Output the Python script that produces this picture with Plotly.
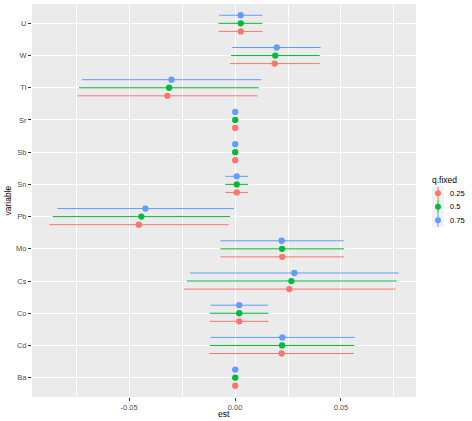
import plotly.graph_objects as go

variables = ["Ba", "Cd", "Co", "Cs", "Mo", "Pb", "Sn", "Sb", "Sr", "Tl", "W", "U"]
quantiles = ["0.25", "0.5", "0.75"]
colors = ["#F8766D", "#00BA38", "#619CFF"]

est_025 = [0.0001, 0.0220, 0.0020, 0.0256, 0.0223, -0.0454, 0.0008, 0.0001, 0.0001, -0.0319, 0.0187, 0.0027]
lo_025  = [-0.0006, -0.0121, -0.0118, -0.0241, -0.0069, -0.0876, -0.0046, -0.0006, -0.0006, -0.0744, -0.0024, -0.0077]
hi_025  = [0.0008, 0.0561, 0.0158, 0.0758, 0.0515, -0.0030, 0.0061, 0.0008, 0.0008, 0.0107, 0.0400, 0.0130]

est_050 = [0.0001, 0.0222, 0.0020, 0.0266, 0.0222, -0.0442, 0.0008, 0.0001, 0.0001, -0.0311, 0.0190, 0.0027]
lo_050  = [-0.0006, -0.0118, -0.0118, -0.0228, -0.0069, -0.0860, -0.0046, -0.0006, -0.0006, -0.0736, -0.0019, -0.0078]
hi_050  = [0.0008, 0.0563, 0.0157, 0.0763, 0.0514, -0.0024, 0.0061, 0.0008, 0.0008, 0.0112, 0.0400, 0.0129]

est_075 = [0.0001, 0.0223, 0.0020, 0.0280, 0.0220, -0.0423, 0.0008, 0.0001, 0.0001, -0.0300, 0.0197, 0.0027]
lo_075  = [-0.0006, -0.0115, -0.0115, -0.0212, -0.0069, -0.0838, -0.0046, -0.0006, -0.0006, -0.0722, -0.0013, -0.0075]
hi_075  = [0.0008, 0.0565, 0.0156, 0.0772, 0.0513, -0.0006, 0.0061, 0.0008, 0.0008, 0.0124, 0.0404, 0.0129]

x_ticks = [-0.05, 0.0, 0.05]
x_ticklabels = ["-0.05", "0.00", "0.05"]

series = [(est_025, lo_025, hi_025), (est_050, lo_050, hi_050), (est_075, lo_075, hi_075)]
offsets = [-0.25, 0.0, 0.25]

W, H = 472, 421
PL, PR, PT, PB = 32, 416, 4, 397  # panel box in pixels

fig = go.Figure()
for (est, lo, hi), q, c, off in zip(series, quantiles, colors, offsets):
    ys = [i + 1 + off for i in range(len(variables))]
    fig.add_trace(go.Scatter(
        x=est, y=ys, mode="markers", name=q, showlegend=False,
        marker=dict(color=c, size=6.3, line=dict(width=0)),
        error_x=dict(type="data", symmetric=False,
                     array=[h - e for h, e in zip(hi, est)],
                     arrayminus=[e - l for e, l in zip(est, lo)],
                     color=c, thickness=1, width=0),
        xaxis="x", yaxis="y",
    ))

# legend keys (ggplot-style pointrange keys) on their own small axes
n = len(quantiles)
for k, (q, c) in enumerate(zip(quantiles, colors)):
    fig.add_trace(go.Scatter(
        x=[0.5], y=[n - k], mode="markers", showlegend=False, hoverinfo="skip",
        marker=dict(color=c, size=6, line=dict(width=0)),
        error_y=dict(type="constant", value=0.5, color=c, thickness=1, width=0),
        xaxis="x2", yaxis="y2",
    ))

KX0, KX1, KY0, KY1 = 432, 444, 186.5, 227
key_h = (KY1 - KY0) / n

annotations = [
    dict(text="q.fixed", x=430 / W, y=1 - 179.5 / H, xref="paper", yref="paper",
         xanchor="left", yanchor="middle", showarrow=False,
         font=dict(size=8.5, color="black")),
    dict(text="est", x=(PL + PR) / 2 / W, y=1 - 414 / H, xref="paper", yref="paper",
         xanchor="center", yanchor="middle", showarrow=False,
         font=dict(size=8.5, color="black")),
    dict(text="variable", x=8 / W, y=1 - (PT + PB) / 2 / H, xref="paper", yref="paper",
         xanchor="center", yanchor="middle", showarrow=False, textangle=-90,
         font=dict(size=8.5, color="black")),
]
for k, q in enumerate(quantiles):
    yc = KY0 + key_h * (k + 0.5)
    annotations.append(dict(text=q, x=448 / W, y=1 - yc / H, xref="paper", yref="paper",
                            xanchor="left", yanchor="middle", showarrow=False,
                            font=dict(size=7.5, color="black")))

fig.update_layout(
    width=W, height=H,
    margin=dict(l=0, r=0, t=0, b=0, autoexpand=False),
    paper_bgcolor="white", plot_bgcolor="#EBEBEB",
    font=dict(family="Liberation Sans, Arial, sans-serif", size=8.5, color="black"),
    showlegend=False,
    annotations=annotations,
    shapes=[dict(type="rect", xref="x2 domain", yref="y2 domain", x0=0, x1=1, y0=0, y1=1,
                 fillcolor="#F2F2F2", line=dict(width=0), layer="below")],
    xaxis=dict(domain=[PL / W, PR / W], anchor="y",
               range=[-0.0958, 0.0854], tickvals=x_ticks, ticktext=x_ticklabels,
               showgrid=True, gridcolor="white", gridwidth=1.1,
               minor=dict(tickvals=[-0.075, -0.025, 0.025, 0.075], showgrid=True,
                          gridcolor="white", gridwidth=0.5, ticks=""),
               ticks="outside", ticklen=3, tickcolor="#333333", tickwidth=1,
               tickfont=dict(size=7.5, color="#4D4D4D"),
               zeroline=False, showline=False, automargin=False),
    yaxis=dict(domain=[1 - PB / H, 1 - PT / H], anchor="x",
               range=[0.4, 12.6], tickvals=list(range(1, len(variables) + 1)),
               ticktext=variables,
               showgrid=True, gridcolor="white", gridwidth=1.1,
               ticks="outside", ticklen=3, tickcolor="#333333", tickwidth=1,
               tickfont=dict(size=7.5, color="#4D4D4D"),
               zeroline=False, showline=False, automargin=False),
    xaxis2=dict(domain=[KX0 / W, KX1 / W], anchor="y2", range=[0, 1], visible=False,
                fixedrange=True),
    yaxis2=dict(domain=[1 - KY1 / H, 1 - KY0 / H], anchor="x2", range=[0.5, n + 0.5],
                visible=False, fixedrange=True),
)

fig.write_html("out.html", config={"displayModeBar": False},
               post_script="document.body.style.margin='0px';")
